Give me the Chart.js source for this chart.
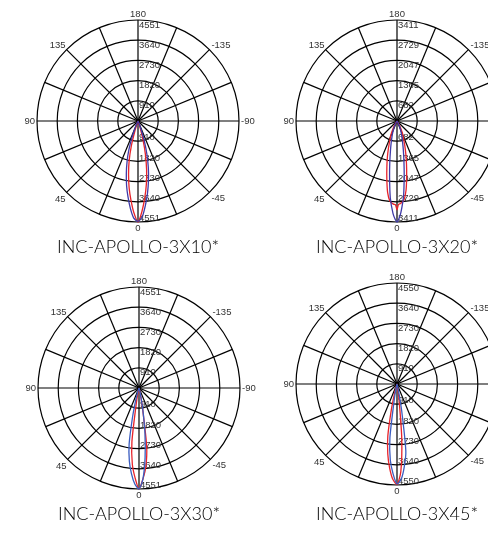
<!DOCTYPE html>
<html>
<head>
<meta charset="utf-8">
<script src="https://cdn.jsdelivr.net/npm/chart.js@4.4.1/dist/chart.umd.min.js"></script>
<style>
  body { margin: 0; width: 488px; height: 534px; overflow: hidden; position: relative; background: #fff; }
  canvas { position: absolute; }
  .title { position: absolute; width: 244px; text-align: center; font-family: Lato, "Open Sans", sans-serif;
           font-weight: 300; font-size: 18px; line-height: 20px; color: #000; white-space: nowrap; }
</style>
</head>
<body>
<canvas id="c1" width="260" height="240" style="left:8px;top:6px"></canvas>
<canvas id="c2" width="260" height="240" style="left:267px;top:6px"></canvas>
<canvas id="c3" width="260" height="240" style="left:9px;top:273px"></canvas>
<canvas id="c4" width="260" height="240" style="left:267px;top:269px"></canvas>
<div class="title" id="t1" style="left:16px;top:236px"></div>
<div class="title" id="t2" style="left:275px;top:236px"></div>
<div class="title" id="t3" style="left:17px;top:503px"></div>
<div class="title" id="t4" style="left:275px;top:503px"></div>
<script>
// candela values; angle 0 = straight down, positive = to the left
var titles = ['INC-APOLLO-3X10*', 'INC-APOLLO-3X20*', 'INC-APOLLO-3X30*', 'INC-APOLLO-3X45*'];
var angleLabels = ['0', '45', '90', '135', '180', '-135', '-90', '-45'];

var rings10 = ['910', '1820', '2730', '3640', '4551'];
var angles10 = [-30, -25, -22.5, -20, -17.5, -15, -12.5, -10, -7.5, -5, -2.5, 0, 2.5, 5, 7.5, 10, 12.5, 15, 17.5, 20, 22.5, 25, 30];
var blue10 = [0, 20, 120, 420, 950, 1550, 2150, 2720, 3280, 3820, 4330, 4520, 4380, 3950, 3450, 2960, 2430, 1910, 1380, 800, 320, 80, 0];
var red10 = [0, 0, 0, 60, 300, 850, 1550, 2230, 2880, 3480, 4080, 4551, 4150, 3600, 3050, 2450, 1850, 1150, 450, 100, 0, 0, 0];

var rings20 = ['682', '1365', '2047', '2729', '3411'];
var angles20 = [-40, -35, -30, -25, -22.5, -20, -17.5, -15, -12.5, -10, -7.5, -5, -2.5, -1, 0, 1, 2.5, 5, 7.5, 10, 12.5, 15, 17.5, 20, 22.5, 25, 30, 35, 40];
var blue20 = [0, 10, 60, 190, 290, 400, 540, 720, 980, 1340, 1860, 2540, 3080, 3320, 3411, 3330, 3120, 2600, 1920, 1400, 1020, 760, 570, 430, 310, 210, 70, 10, 0];
var red20 = [0, 30, 160, 380, 520, 660, 880, 1150, 1480, 1880, 2350, 2680, 2790, 2820, 3000, 2830, 2810, 2720, 2430, 1980, 1580, 1250, 960, 720, 580, 420, 180, 40, 0];

var rings30 = ['910', '1820', '2730', '3640', '4551'];
var angles30 = [-25, -20, -17.5, -15, -12.5, -10, -7.5, -5, -2.5, 0, 2.5, 5, 7.5, 10, 12.5, 15, 17.5, 20, 25];
var blue30 = [0, 0, 20, 100, 350, 1000, 2050, 3150, 4100, 4551, 4330, 3880, 3330, 2560, 1350, 600, 250, 100, 0];
var red30 = [0, 0, 0, 70, 280, 900, 2650, 3550, 4100, 4551, 4050, 3450, 2450, 700, 200, 50, 0, 0, 0];

var rings45 = ['910', '1820', '2730', '3640', '4550'];
var angles45 = [-20, -17.5, -15, -12.5, -10, -7.5, -5, -2.5, 0, 2.5, 5, 7.5, 10, 12.5, 15, 17.5, 20];
var blue45 = [0, 0, 50, 300, 1200, 3050, 3750, 4300, 4500, 4050, 3450, 2450, 700, 200, 0, 0, 0];
var red45 = [0, 0, 0, 30, 150, 700, 2450, 3950, 4530, 4300, 3800, 3180, 2380, 1150, 400, 100, 0];

function toXY(angles, values) {
  return angles.map(function (a, i) {
    var t = a * Math.PI / 180;
    return { x: -values[i] * Math.sin(t), y: -values[i] * Math.cos(t) };
  });
}

// the plots use a condensed face; squeeze the regular one if Narrow is missing
var narrowScale = 1;
(function () {
  var c = document.createElement('canvas').getContext('2d');
  c.font = '10px "Liberation Sans Narrow", monospace';
  var a = c.measureText('4551').width;
  c.font = '10px "Liberation Sans", monospace';
  var b = c.measureText('4551').width;
  if (Math.abs(a - b) < 0.5) narrowScale = 0.82;
})();

function label(ctx, text, x, y) {
  ctx.save();
  ctx.translate(x, y);
  ctx.scale(narrowScale, 1);
  ctx.fillText(text, 0, 0);
  ctx.restore();
}

var polarGrid = {
  id: 'polarGrid',
  beforeDatasetsDraw: function (chart, args, opts) {
    var ctx = chart.ctx, xs = chart.scales.x, ys = chart.scales.y;
    var cx = xs.getPixelForValue(0), cy = ys.getPixelForValue(0);
    var n = opts.rings.length, step = opts.max / n;
    var R = xs.getPixelForValue(opts.max) - cx;
    ctx.save();
    ctx.strokeStyle = '#000';
    ctx.lineWidth = 1.2;
    for (var i = 1; i <= n; i++) {
      var r = xs.getPixelForValue(step * i) - cx;
      ctx.beginPath();
      ctx.arc(cx, cy, r, 0, 2 * Math.PI);
      ctx.stroke();
    }
    for (var a = 0; a < 360; a += 22.5) {
      var t = a * Math.PI / 180;
      ctx.beginPath();
      ctx.moveTo(cx, cy);
      ctx.lineTo(cx + R * Math.sin(t), cy + R * Math.cos(t));
      ctx.stroke();
    }
    ctx.fillStyle = '#000';
    ctx.beginPath();
    ctx.arc(cx, cy, 2.2, 0, 2 * Math.PI);
    ctx.fill();

    // ring values along the vertical axis, both halves
    ctx.fillStyle = '#333';
    ctx.font = '9.5px "Liberation Sans Narrow", "Liberation Sans", Arial, sans-serif';
    ctx.textAlign = 'left';
    ctx.textBaseline = 'middle';
    for (var j = 1; j <= n; j++) {
      label(ctx, opts.rings[j - 1], cx + 1, ys.getPixelForValue(step * j) + 5);
      label(ctx, opts.rings[j - 1], cx + 1, ys.getPixelForValue(-step * j) - 3.5);
    }

    // angle labels round the outside
    var d = R * Math.SQRT1_2;
    var L = angleLabels;
    ctx.textAlign = 'center';
    ctx.textBaseline = 'bottom';
    label(ctx, L[4], cx, cy - R - 1);
    ctx.textBaseline = 'top';
    label(ctx, L[0], cx, cy + R + 2);
    ctx.textBaseline = 'middle';
    ctx.textAlign = 'right';
    label(ctx, L[2], cx - R - 2, cy);
    ctx.textAlign = 'left';
    label(ctx, L[6], cx + R + 2, cy);
    ctx.textBaseline = 'bottom';
    ctx.textAlign = 'right';
    label(ctx, L[3], cx - d - 1, cy - d + 1);
    ctx.textAlign = 'left';
    label(ctx, L[5], cx + d + 2, cy - d + 1);
    ctx.textBaseline = 'top';
    ctx.textAlign = 'right';
    label(ctx, L[1], cx - d - 1, cy + d + 2);
    ctx.textAlign = 'left';
    label(ctx, L[7], cx + d + 2, cy + d + 1);
    ctx.restore();
  }
};

function polarChart(id, rings, angles, blue, red, blueColor) {
  var max = parseFloat(rings[rings.length - 1]);
  return new Chart(document.getElementById(id), {
    type: 'scatter',
    data: {
      datasets: [{
        data: toXY(angles, blue),
        showLine: true,
        borderColor: blueColor,
        borderWidth: 1.3,
        pointRadius: 0,
        tension: 0.25,
        clip: false
      }, {
        data: toXY(angles, red),
        showLine: true,
        borderColor: '#e8232a',
        borderWidth: 1.3,
        pointRadius: 0,
        tension: 0.25,
        clip: false
      }]
    },
    options: {
      responsive: false,
      animation: false,
      events: [],
      layout: { padding: { left: 29, right: 29, top: 14, bottom: 24 } },
      scales: {
        x: { type: 'linear', min: -max, max: max, display: false },
        y: { type: 'linear', min: -max, max: max, display: false }
      },
      plugins: {
        legend: { display: false },
        tooltip: { enabled: false },
        polarGrid: { rings: rings, max: max }
      }
    },
    plugins: [polarGrid]
  });
}

polarChart('c1', rings10, angles10, blue10, red10, '#3f3aa8');
polarChart('c2', rings20, angles20, blue20, red20, '#3f3aa8');
polarChart('c3', rings30, angles30, blue30, red30, '#3a5cc0');
polarChart('c4', rings45, angles45, blue45, red45, '#3a5cc0');

titles.forEach(function (t, i) {
  document.getElementById('t' + (i + 1)).textContent = t;
});
</script>
</body>
</html>
